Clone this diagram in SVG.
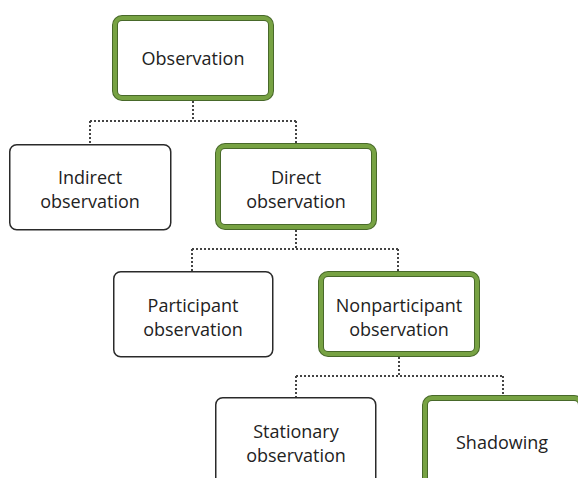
<svg xmlns="http://www.w3.org/2000/svg" width="578" height="478" viewBox="0 0 578 478">
<style>
.plain{fill:#fff;stroke:#2a2a2a;stroke-width:1.5}
.gout{fill:#fff;stroke:#48692a;stroke-width:6}
.gin{fill:none;stroke:#77a243;stroke-width:4}
.t{font-family:"Open Sans","Noto Sans",sans-serif;font-size:18px;fill:#222;text-anchor:middle}
.c{fill:none;stroke:#444;stroke-width:2;stroke-dasharray:2 2}
</style>
<rect width="578" height="478" fill="#fff"/>
<g id="connectors">
<path class="c" d="M193 101V121M90 121H296M90 121V144M296 121V143"/>
<path class="c" d="M296 230V249M192 249H398M192 249V271M398 249V271"/>
<path class="c" d="M399 357V376M296 376H503M296 376V397M503 376V395"/>
</g>
<g id="observation">
<rect class="gout" x="115" y="18" width="156" height="80" rx="7"/>
<rect class="gin" x="115" y="18" width="156" height="80" rx="7"/>
<text class="t" x="193" y="65">Observation</text>
</g>
<g id="indirect">
<rect class="plain" x="9.75" y="144.75" width="161" height="85" rx="7"/>
<text class="t" x="90" y="184">Indirect</text>
<text class="t" x="90" y="208">observation</text>
</g>
<g id="direct">
<rect class="gout" x="218" y="146" width="156" height="81" rx="7"/>
<rect class="gin" x="218" y="146" width="156" height="81" rx="7"/>
<text class="t" x="296" y="184">Direct</text>
<text class="t" x="296" y="208">observation</text>
</g>
<g id="participant">
<rect class="plain" x="113.75" y="271.75" width="159" height="85" rx="7"/>
<text class="t" x="193" y="312">Participant</text>
<text class="t" x="193" y="336">observation</text>
</g>
<g id="nonparticipant">
<rect class="gout" x="321" y="274" width="156" height="80" rx="7"/>
<rect class="gin" x="321" y="274" width="156" height="80" rx="7"/>
<text class="t" x="399" y="312">Nonparticipant</text>
<text class="t" x="399" y="336">observation</text>
</g>
<g id="stationary">
<rect class="plain" x="215.75" y="397.75" width="160" height="90" rx="7"/>
<text class="t" x="296" y="438">Stationary</text>
<text class="t" x="296" y="462">observation</text>
</g>
<g id="shadowing">
<rect class="gout" x="425" y="398" width="156" height="90" rx="7"/>
<rect class="gin" x="425" y="398" width="156" height="90" rx="7"/>
<text class="t" x="502" y="449">Shadowing</text>
</g>
</svg>
